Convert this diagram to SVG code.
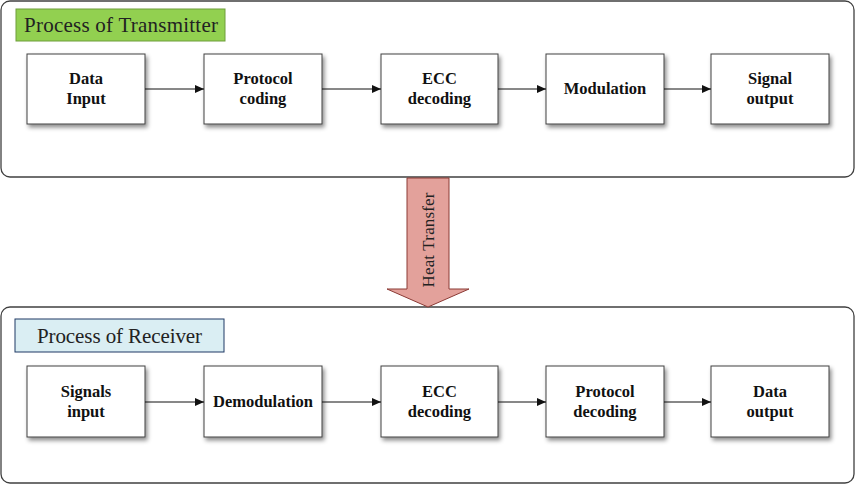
<svg xmlns="http://www.w3.org/2000/svg" width="856" height="485" viewBox="0 0 856 485">
<style>
.frame{fill:#fff;stroke:#404040;stroke-width:1.3}
.node{fill:#fff;stroke:#404040;stroke-width:1}
.lbl{font-family:"Liberation Serif","Times New Roman",serif;font-weight:bold;font-size:16.5px;fill:#111;text-anchor:middle}
.title{font-family:"Liberation Serif","DejaVu Serif",serif;font-size:21px;fill:#222}
.conn{stroke:#111;stroke-width:1;fill:none;marker-end:url(#ah)}
</style>
<defs>
<filter id="sh" x="-10%" y="-10%" width="130%" height="140%">
<feDropShadow dx="2" dy="3" stdDeviation="2" flood-color="#000" flood-opacity="0.45"/>
</filter>
<marker id="ah" markerWidth="10" markerHeight="10" refX="9" refY="4" orient="auto" markerUnits="userSpaceOnUse">
<path d="M0,0 L9,4 L0,8 z" fill="#111"/>
</marker>
</defs>
<rect width="856" height="485" fill="#fff"/>
<g id="transmitter-frame">
<rect class="frame" x="1" y="1" width="853" height="176" rx="9"/>
<rect x="16" y="9" width="209" height="32" fill="#92D050" stroke="#6E9E3A" stroke-width="1"/>
<text class="title" x="24" y="32" textLength="194">Process of Transmitter</text>
</g>
<g id="receiver-frame">
<rect class="frame" x="1" y="307" width="853" height="176" rx="9"/>
<rect x="15" y="319" width="209" height="33" fill="#DAEEF3" stroke="#1F3864" stroke-width="1"/>
<text class="title" x="37" y="343" textLength="165">Process of Receiver</text>
</g>
<g id="heat-transfer">
<path d="M407,178 L449,178 L449,289 L469,289 L428,307 L387,289 L407,289 Z" fill="#E3A19B" stroke="#8B3A35" stroke-width="1"/>
<text transform="translate(434,240) rotate(-90)" font-family="Liberation Serif,DejaVu Serif,serif" font-size="17" fill="#222" text-anchor="middle" textLength="95">Heat Transfer</text>
</g>
<g id="t1"><rect class="node" filter="url(#sh)" x="27" y="54" width="118" height="70"/><text class="lbl" x="86" y="84">Data</text><text class="lbl" x="86" y="104">Input</text></g>
<g id="t2"><rect class="node" filter="url(#sh)" x="204" y="54" width="118" height="70"/><text class="lbl" x="263" y="84">Protocol</text><text class="lbl" x="263" y="104">coding</text></g>
<g id="t3"><rect class="node" filter="url(#sh)" x="381" y="54" width="117" height="70"/><text class="lbl" x="439.5" y="84">ECC</text><text class="lbl" x="439.5" y="104">decoding</text></g>
<g id="t4"><rect class="node" filter="url(#sh)" x="546" y="54" width="118" height="70"/><text class="lbl" x="605" y="94">Modulation</text></g>
<g id="t5"><rect class="node" filter="url(#sh)" x="711" y="54" width="118" height="70"/><text class="lbl" x="770" y="84">Signal</text><text class="lbl" x="770" y="104">output</text></g>
<g id="r1"><rect class="node" filter="url(#sh)" x="27" y="366" width="118" height="71"/><text class="lbl" x="86" y="397">Signals</text><text class="lbl" x="86" y="417">input</text></g>
<g id="r2"><rect class="node" filter="url(#sh)" x="204" y="366" width="118" height="71"/><text class="lbl" x="263" y="407">Demodulation</text></g>
<g id="r3"><rect class="node" filter="url(#sh)" x="381" y="366" width="117" height="71"/><text class="lbl" x="439.5" y="397">ECC</text><text class="lbl" x="439.5" y="417">decoding</text></g>
<g id="r4"><rect class="node" filter="url(#sh)" x="546" y="366" width="118" height="71"/><text class="lbl" x="605" y="397">Protocol</text><text class="lbl" x="605" y="417">decoding</text></g>
<g id="r5"><rect class="node" filter="url(#sh)" x="711" y="366" width="118" height="71"/><text class="lbl" x="770" y="397">Data</text><text class="lbl" x="770" y="417">output</text></g>
<g id="connectors">
<line class="conn" x1="145" y1="89" x2="204" y2="89"/>
<line class="conn" x1="322" y1="89" x2="381" y2="89"/>
<line class="conn" x1="498" y1="89" x2="546" y2="89"/>
<line class="conn" x1="664" y1="89" x2="711" y2="89"/>
<line class="conn" x1="145" y1="402" x2="204" y2="402"/>
<line class="conn" x1="322" y1="402" x2="381" y2="402"/>
<line class="conn" x1="498" y1="402" x2="546" y2="402"/>
<line class="conn" x1="664" y1="402" x2="711" y2="402"/>
</g>
</svg>
